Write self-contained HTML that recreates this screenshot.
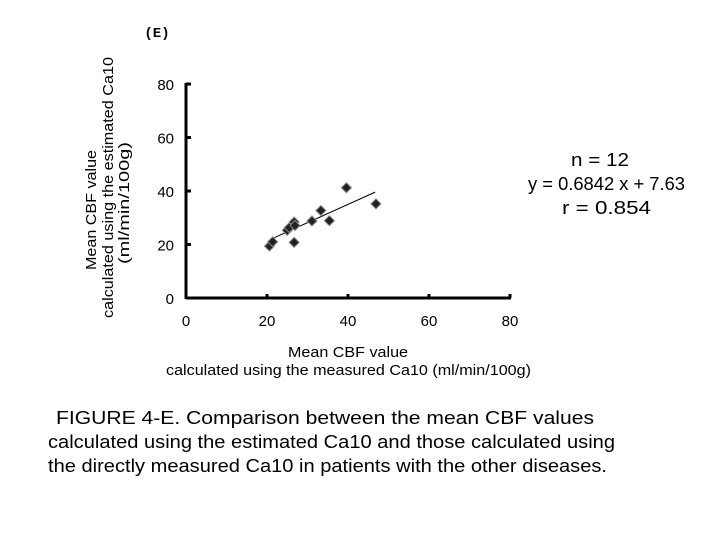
<!DOCTYPE html>
<html><head><meta charset="utf-8"><style>
body{margin:0;background:#fff;width:720px;height:540px;overflow:hidden;font-family:"Liberation Sans",sans-serif}
svg{position:absolute;left:0;top:0}
</style></head><body>
<svg id="c" width="720" height="540">
<text x="157" y="37" font-size="14" font-weight="bold" font-family="Liberation Mono, monospace" text-anchor="middle">(E)</text>
<g font-size="15" lengthAdjust="spacingAndGlyphs">
<text transform="translate(96,270) rotate(-90)" textLength="120" lengthAdjust="spacingAndGlyphs">Mean CBF value</text>
<text transform="translate(113,318) rotate(-90)" textLength="261" lengthAdjust="spacingAndGlyphs">calculated using the estimated  Ca10</text>
<text transform="translate(129,264) rotate(-90)" textLength="122" lengthAdjust="spacingAndGlyphs">(ml/min/100g)</text>
</g>
<g font-size="15">
<text x="288" y="357" textLength="120" lengthAdjust="spacingAndGlyphs">Mean CBF value</text>
<text x="166" y="375" textLength="365" lengthAdjust="spacingAndGlyphs">calculated using the  measured Ca10 (ml/min/100g)</text>
</g>
<g font-size="18">
<text x="571" y="166" textLength="58" lengthAdjust="spacingAndGlyphs">n = 12</text>
<text x="528" y="190" textLength="157" lengthAdjust="spacingAndGlyphs">y = 0.6842 x + 7.63</text>
<text x="562" y="214" textLength="89" lengthAdjust="spacingAndGlyphs">r = 0.854</text>
</g>
<g font-size="18">
<text x="56" y="424" textLength="538" lengthAdjust="spacingAndGlyphs">FIGURE  4-E. Comparison between the mean CBF values</text>
<text x="48" y="448" textLength="567" lengthAdjust="spacingAndGlyphs">calculated using the estimated Ca10 and those calculated using</text>
<text x="48" y="472" textLength="559" lengthAdjust="spacingAndGlyphs">the directly measured Ca10 in patients with the other diseases.</text>
</g>
<g id="plot"></g>
</svg>
<script>
const xTicks=[0,20,40,60,80];
const yTicks=[0,20,40,60,80];
const xVals=[20.6,21.4,25.0,25.5,26.7,26.9,26.7,31.1,33.3,35.4,39.6,46.9];
const yVals=[19.4,21.0,25.3,26.3,28.4,27.1,20.8,28.8,32.7,28.9,41.2,35.2];
const slope=0.6842, intercept=7.63, fitRange=[21.8,46.7];
const X=v=>186+v*(510-186)/80;
const Y=v=>298-v*(298-84)/80;
const NS='http://www.w3.org/2000/svg';
const g=document.getElementById('plot');
function mk(t,a){const e=document.createElementNS(NS,t);for(const k in a)e.setAttribute(k,a[k]);g.appendChild(e);return e;}
let e=mk('line',{x1:X(0),y1:Y(0),x2:X(80)+1,y2:Y(0),stroke:'#000','stroke-width':3});


e=mk('line',{x1:X(0),y1:Y(0)+1,x2:X(0),y2:Y(80)-1,stroke:'#000','stroke-width':3});


xTicks.forEach(v=>{
 let t=mk('line',{x1:X(v),y1:Y(0),x2:X(v),y2:Y(0)-4,stroke:'#000','stroke-width':3});
 
 
 let l=mk('text',{x:X(v),y:Y(0)+28,'font-size':15,'text-anchor':'middle'});l.textContent=v;
 
 
});
yTicks.forEach(v=>{
 let t=mk('line',{x1:X(0),y1:Y(v),x2:X(0)+5,y2:Y(v),stroke:'#000','stroke-width':3});
 
 
 let l=mk('text',{x:X(0)-12,y:Y(v)+6,'font-size':15,'text-anchor':'end'});l.textContent=v;
 
 
});
e=mk('line',{x1:X(fitRange[0]),y1:Y(slope*fitRange[0]+intercept),x2:X(fitRange[1]),y2:Y(slope*fitRange[1]+intercept),stroke:'#000','stroke-width':1});


xVals.forEach((v,i)=>{
 const cx=X(v),cy=Y(yVals[i]);
 let p=mk('polygon',{points:`${cx},${cy-5} ${cx+5},${cy} ${cx},${cy+5} ${cx-5},${cy}`,fill:'#222',stroke:'#888','stroke-width':1});
 
 
});
</script>
</body></html>
